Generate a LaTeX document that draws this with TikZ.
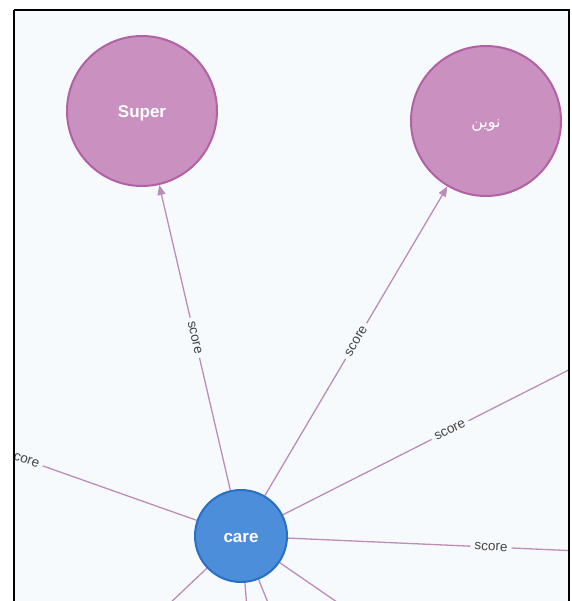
\documentclass[tikz,border=0pt]{standalone}
\usepackage{fontspec}
\setmainfont{Liberation Sans}
\newfontfamily\arabicfont[Script=Arabic]{DejaVu Sans}
\TeXXeTstate=1
\usetikzlibrary{arrows.meta,backgrounds}
\definecolor{bgc}{HTML}{F7FAFD}
\definecolor{pfill}{HTML}{C990C0}
\definecolor{pdraw}{HTML}{B261A5}
\definecolor{bfill}{HTML}{4C8EDA}
\definecolor{bdraw}{HTML}{2870C2}
\definecolor{edgec}{HTML}{BC8DB8}
\definecolor{labc}{HTML}{444444}
\newcommand{\lowertext}[2]{\raisebox{-#1}[\height][\depth]{#2}}
\tikzset{
  purplenode/.style={circle, fill=pfill, draw=pdraw, line width=2pt, minimum size=150pt, inner sep=0pt, text=white, font=\fontsize{17}{17}\selectfont\bfseries},
  bluenode/.style={circle, fill=bfill, draw=bdraw, line width=2pt, minimum size=92pt, inner sep=0pt, text=white, font=\fontsize{17}{17}\selectfont\bfseries},
  rel/.style={draw=edgec, line width=1.3pt},
  relarrow/.style={rel, -{Triangle[length=10pt,width=8pt]}, fill=edgec},
  rlabel/.style={fill=bgc, text=labc, inner xsep=4pt, inner ysep=2pt, sloped, font=\fontsize{13.5}{13.5}\selectfont}
}
\begin{document}
\begin{tikzpicture}[x=1pt,y=-1pt]
\useasboundingbox (0,0) rectangle (571,601);
\begin{scope}
\clip (14,10) rectangle (569,612);
\node[purplenode] (super) at (142,111) {\lowertext{2pt}{Super}};
\node[purplenode] (arab) at (486,121) {\lowertext{5pt}{\arabicfont\mdseries\fontsize{16}{16}\selectfont\beginR نوین\endR}};
\node[bluenode] (care) at (241,536) {\lowertext{2pt}{care}};
\coordinate (e3) at (617.2,345.4);
\coordinate (e4) at (694,556.1);
\coordinate (e5) at (-150,397.7);
\coordinate (b1) at (150,622);
\coordinate (b2) at (248,620);
\coordinate (b3) at (275,620);
\coordinate (b4) at (363,620);
\end{scope}
\begin{scope}[on background layer]
\fill[white] (0,0) rectangle (571,601);
\fill[bgc] (14,10) rectangle (569,612);
\clip (14,10) rectangle (569,612);
\draw[relarrow] (care) -- (super) node[rlabel, midway] (l1) {score};
\draw[relarrow] (care) -- (arab) node[rlabel, midway] (l2) {score};
\draw[rel] (care) -- (e3) node[rlabel, midway] (l3) {score};
\draw[rel] (care) -- (e4) node[rlabel, midway] (l4) {score};
\draw[rel] (care) -- (e5) node[rlabel, midway] (l5) {score};
\draw[rel] (care) -- (b1);
\draw[rel] (care) -- (b2);
\draw[rel] (care) -- (b3);
\draw[rel] (care) -- (b4);
\end{scope}
\draw[black, line width=2pt] (14,10) -- (569,10) -- (569,612);
\draw[black, line width=2pt] (14,10) -- (14,612);
\end{tikzpicture}
\end{document}
